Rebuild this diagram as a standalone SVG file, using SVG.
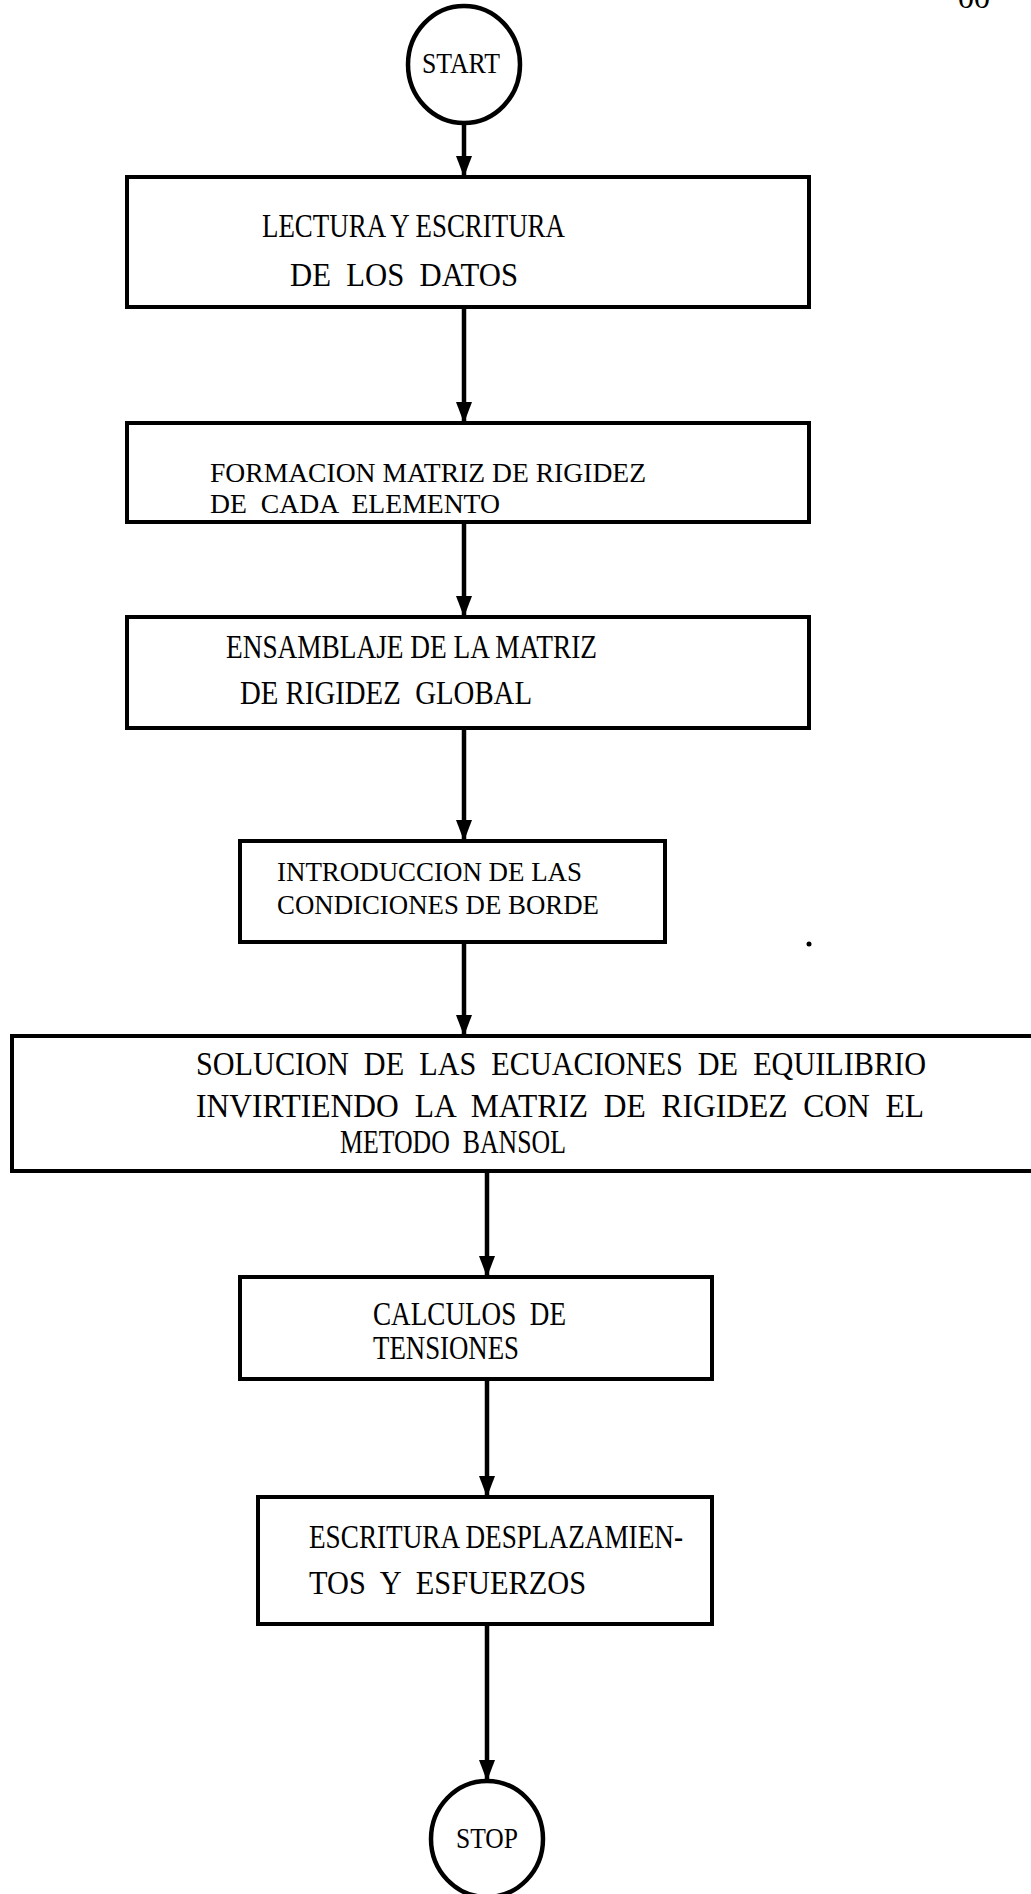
<svg xmlns="http://www.w3.org/2000/svg" width="1031" height="1894" viewBox="0 0 1031 1894">
<defs>
<style>
.box{fill:none;stroke:#000;stroke-width:4}
.term{fill:none;stroke:#000;stroke-width:4.5}
.lbl{font-family:"Liberation Serif",serif;font-size:34px;fill:#000;white-space:pre}
.sm{font-size:28px}
.tl{font-family:"Liberation Serif",serif;font-size:30px;fill:#000}
.edge{stroke:#000;stroke-width:4.5;fill:none;marker-end:url(#ah)}
</style>
<marker id="ah" markerUnits="userSpaceOnUse" markerWidth="21" markerHeight="16" refX="21" refY="8" orient="auto">
<path d="M0,0 L21,8 L0,16 z" fill="#000"/>
</marker>
</defs>
<rect width="1031" height="1894" fill="#fff"/>
<text class="tl" x="958" y="8" textLength="32" lengthAdjust="spacingAndGlyphs">00</text>
<g id="connectors">
<line class="edge" x1="464" y1="123" x2="464" y2="177"/>
<line class="edge" x1="464" y1="307" x2="464" y2="423"/>
<line class="edge" x1="464" y1="522" x2="464" y2="617"/>
<line class="edge" x1="464" y1="728" x2="464" y2="841"/>
<line class="edge" x1="464" y1="942" x2="464" y2="1036"/>
<line class="edge" x1="487" y1="1171" x2="487" y2="1277"/>
<line class="edge" x1="487" y1="1379" x2="487" y2="1497"/>
<line class="edge" x1="487" y1="1624" x2="487" y2="1781"/>
</g>
<g id="start">
<ellipse class="term" cx="464" cy="64.5" rx="56" ry="58.5"/>
<text class="tl" x="422" y="73" textLength="78" lengthAdjust="spacingAndGlyphs">START</text>
</g>
<g id="n1">
<rect class="box" x="127" y="177" width="682" height="130"/>
<text class="lbl" x="262" y="237" textLength="303" lengthAdjust="spacingAndGlyphs" xml:space="preserve">LECTURA Y ESCRITURA</text>
<text class="lbl" x="290" y="286" textLength="228" lengthAdjust="spacingAndGlyphs" xml:space="preserve">DE  LOS  DATOS</text>
</g>
<g id="n2">
<rect class="box" x="127" y="423" width="682" height="99"/>
<text class="lbl sm" x="210" y="482" textLength="436" lengthAdjust="spacingAndGlyphs" xml:space="preserve">FORMACION MATRIZ DE RIGIDEZ</text>
<text class="lbl sm" x="210" y="513" textLength="290" lengthAdjust="spacingAndGlyphs" xml:space="preserve">DE  CADA  ELEMENTO</text>
</g>
<g id="n3">
<rect class="box" x="127" y="617" width="682" height="111"/>
<text class="lbl" x="226" y="658" textLength="371" lengthAdjust="spacingAndGlyphs" xml:space="preserve">ENSAMBLAJE DE LA MATRIZ</text>
<text class="lbl" x="240" y="704" textLength="292" lengthAdjust="spacingAndGlyphs" xml:space="preserve">DE RIGIDEZ  GLOBAL</text>
</g>
<g id="n4">
<rect class="box" x="240" y="841" width="425" height="101"/>
<text class="lbl sm" x="277" y="881" textLength="305" lengthAdjust="spacingAndGlyphs" xml:space="preserve">INTRODUCCION DE LAS</text>
<text class="lbl sm" x="277" y="914" textLength="322" lengthAdjust="spacingAndGlyphs" xml:space="preserve">CONDICIONES DE BORDE</text>
</g>
<g id="n5">
<rect class="box" x="12" y="1036" width="1040" height="135"/>
<text class="lbl" x="196" y="1075" textLength="730" lengthAdjust="spacingAndGlyphs" xml:space="preserve">SOLUCION  DE  LAS  ECUACIONES  DE  EQUILIBRIO</text>
<text class="lbl" x="196" y="1117" textLength="728" lengthAdjust="spacingAndGlyphs" xml:space="preserve">INVIRTIENDO  LA  MATRIZ  DE  RIGIDEZ  CON  EL</text>
<text class="lbl" x="340" y="1153" textLength="226" lengthAdjust="spacingAndGlyphs" xml:space="preserve">METODO  BANSOL</text>
</g>
<g id="n6">
<rect class="box" x="240" y="1277" width="472" height="102"/>
<text class="lbl" x="373" y="1325" textLength="193" lengthAdjust="spacingAndGlyphs" xml:space="preserve">CALCULOS  DE</text>
<text class="lbl" x="373" y="1359" textLength="146" lengthAdjust="spacingAndGlyphs" xml:space="preserve">TENSIONES</text>
</g>
<g id="n7">
<rect class="box" x="258" y="1497" width="454" height="127"/>
<text class="lbl" x="309" y="1548" textLength="374" lengthAdjust="spacingAndGlyphs" xml:space="preserve">ESCRITURA DESPLAZAMIEN-</text>
<text class="lbl" x="309" y="1594" textLength="277" lengthAdjust="spacingAndGlyphs" xml:space="preserve">TOS  Y  ESFUERZOS</text>
</g>
<g id="stop">
<ellipse class="term" cx="487" cy="1839" rx="56" ry="58"/>
<text class="tl" x="456" y="1848" textLength="62" lengthAdjust="spacingAndGlyphs">STOP</text>
</g>
<circle cx="809" cy="944" r="2.5" fill="#000"/>
</svg>
